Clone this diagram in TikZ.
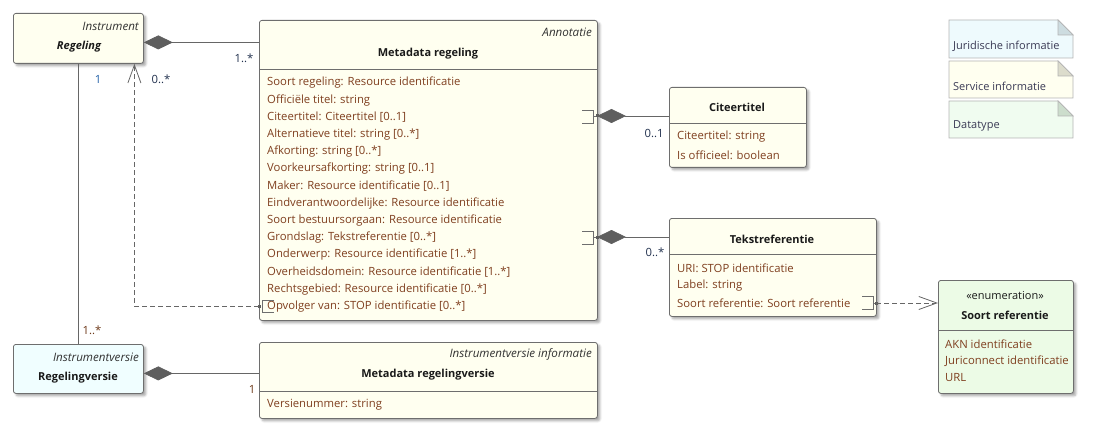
\documentclass[tikz,border=0pt]{standalone}
\usepackage{fontspec}
\setmainfont{Open Sans}
\usetikzlibrary{arrows.meta,shadows.blur,calc}
\definecolor{bordercol}{HTML}{6E6E6E}
\definecolor{yellowfill}{HTML}{FFFFF0}
\definecolor{cyanfill}{HTML}{F0FEFF}
\definecolor{greenfill}{HTML}{ECFBE6}
\definecolor{attrcol}{HTML}{7F3F1F}
\definecolor{titlecol}{HTML}{1A1A1A}
\definecolor{stereocol}{HTML}{333333}
\definecolor{navylab}{HTML}{23324F}
\definecolor{bluelab}{HTML}{2562A8}
\definecolor{brownlab}{HTML}{6E3A1A}
\definecolor{linecol}{HTML}{666666}
\definecolor{diamcol}{HTML}{5E5E5E}
\definecolor{legjur}{HTML}{EEFAFD}
\definecolor{legjurf}{HTML}{CDDCE0}
\definecolor{legser}{HTML}{FFFFF0}
\definecolor{legserf}{HTML}{DCDCCC}
\definecolor{legdat}{HTML}{F0FCF0}
\definecolor{legdatf}{HTML}{CCDDCC}
\definecolor{legborder}{HTML}{B4B4B4}
\definecolor{legtext}{HTML}{3A3A55}
\begin{document}
\begin{tikzpicture}[x=1pt,y=-1pt,
  font=\fontsize{11.3}{13}\selectfont,
  classbox/.style={draw=bordercol, line width=0.8pt, rounded corners=2.5pt, anchor=north west, inner sep=0pt,
    blur shadow={shadow xshift=2.5pt, shadow yshift=-2.5pt, shadow blur steps=6, shadow blur extra rounding=1pt, shadow opacity=35}},
  divider/.style={draw=bordercol, line width=0.8pt},
  attr/.style={anchor=west, inner sep=0pt, text=attrcol},
  ctitle/.style={anchor=center, inner sep=0pt, text=titlecol, font=\fontsize{11}{13}\selectfont\bfseries},
  stereo/.style={anchor=east, inner sep=0pt, text=stereocol, font=\fontsize{11.6}{13}\selectfont\itshape},
  mult/.style={anchor=center, inner sep=0pt, text=navylab},
  assoc/.style={draw=linecol, line width=0.8pt},
  comp/.style={assoc, {Diamond[length=29pt, width=14pt, fill=diamcol, color=diamcol]}-},
  dep/.style={draw=linecol, line width=0.8pt, dash pattern=on 5pt off 3pt, -{Straight Barb[length=18pt, width=13pt, line width=0.8pt]}},
  brk/.style={draw=bordercol, line width=0.8pt},
  port/.style={fill=diamcol, draw=none, minimum size=3pt, inner sep=0pt},
  legtxt/.style={anchor=west, inner sep=0pt, text=legtext, font=\fontsize{11}{13}\selectfont}
]
\useasboundingbox (0,0) rectangle (1093,433);

% ---------------- class boxes ----------------
\node[classbox, fill=yellowfill, minimum width=130pt, minimum height=50pt] (regeling) at (13,13) {};
\node[stereo] (regelingst) at (139,26) {Instrument};
\node[ctitle, font=\fontsize{11}{13}\selectfont\bfseries\itshape] (regelingt) at (79,47) {Regeling};

\node[classbox, fill=cyanfill, minimum width=130pt, minimum height=49pt] (regversie) at (13,344) {};
\node[stereo] (regversiest) at (139,357) {Instrumentversie};
\node[ctitle] (regversiet) at (78,378) {Regelingversie};

\node[classbox, fill=yellowfill, minimum width=338pt, minimum height=300pt] (meta) at (259,20) {};
\node[stereo] (metast) at (592,32) {Annotatie};
\node[ctitle] (metat) at (428,54) {Metadata regeling};
\draw[divider] (meta.west |- 0,69) -- (meta.east |- 0,69);
\foreach \t [count=\i from 0] in {
  {Soort regeling: Resource identificatie},
  {Officiële titel: string},
  {Citeertitel: Citeertitel [0..1]},
  {Alternatieve titel: string [0..*]},
  {Afkorting: string [0..*]},
  {Voorkeursafkorting: string [0..1]},
  {Maker: Resource identificatie [0..1]},
  {Eindverantwoordelijke: Resource identificatie},
  {Soort bestuursorgaan: Resource identificatie},
  {Grondslag: Tekstreferentie [0..*]},
  {Onderwerp: Resource identificatie [1..*]},
  {Overheidsdomein: Resource identificatie [1..*]},
  {Rechtsgebied: Resource identificatie [0..*]},
  {Opvolger van: STOP identificatie [0..*]}}
  \node[attr] (m\i) at (267,{83+17.2*\i}) {\t};

\node[classbox, fill=yellowfill, minimum width=338pt, minimum height=76pt] (metav) at (259,342) {};
\node[stereo] (metavst) at (592,354) {Instrumentversie informatie};
\node[ctitle] (metavt) at (428,375) {Metadata regelingversie};
\draw[divider] (metav.west |- 0,391) -- (metav.east |- 0,391);
\node[attr] (mv0) at (267,405) {Versienummer: string};

\node[classbox, fill=yellowfill, minimum width=137pt, minimum height=80pt] (cit) at (669,87) {};
\node[ctitle] (citt) at (737,107) {Citeertitel};
\draw[divider] (cit.west |- 0,123) -- (cit.east |- 0,123);
\node[attr] (c0) at (677,137) {Citeertitel: string};
\node[attr] (c1) at (677,155) {Is officieel: boolean};

\node[classbox, fill=yellowfill, minimum width=207pt, minimum height=98pt] (tekst) at (669,218) {};
\node[ctitle] (tekstt) at (772,239) {Tekstreferentie};
\draw[divider] (tekst.west |- 0,254) -- (tekst.east |- 0,254);
\node[attr] (t0) at (677,268) {URI: STOP identificatie};
\node[attr] (t1) at (677,286) {Label: string};
\node[attr] (t2) at (677,303) {Soort referentie: Soort referentie};

\node[classbox, fill=greenfill, minimum width=135pt, minimum height=113pt] (enum) at (938,280) {};
\node[ctitle, font=\fontsize{11}{13}\selectfont] (enumst) at (1005,296) {«enumeration»};
\node[ctitle] (enumt) at (1005,315) {Soort referentie};
\draw[divider] (enum.west |- 0,330) -- (enum.east |- 0,330);
\node[attr] (e0) at (945,344) {AKN identificatie};
\node[attr] (e1) at (945,361) {Juriconnect identificatie};
\node[attr] (e2) at (945,378) {URL};

% ---------------- legend ----------------
\foreach \yt/\yb/\fc/\ff/\txt/\nm in {20/58/legjur/legjurf/Juridische informatie/lj, 61/98/legser/legserf/Service informatie/ls, 101/138/legdat/legdatf/Datatype/ld}{
  \draw[draw=legborder, fill=\fc, line width=0.7pt] (949,\yt) -- (1058,\yt) -- (1073,\yt+15) -- (1073,\yb) -- (949,\yb) -- cycle;
  \draw[draw=legborder, fill=\ff, line width=0.7pt] (1058,\yt) -- (1073,\yt+15) -- (1058,\yt+15) -- cycle;
  \node[legtxt] (\nm) at (953,\yb-12) {\txt};
}

% ---------------- attribute brackets and ports ----------------
\coordinate (citport) at (597,116);
\coordinate (grondport) at (597,237);
\coordinate (soortport) at (876,303);
\coordinate (opvport) at (259,306);
\draw[brk] (582,110) -- (593,110) -- (593,123) -- (582,123);
\draw[brk] (593,116) -- (citport);
\draw[brk] (582,231) -- (593,231) -- (593,244) -- (582,244);
\draw[brk] (593,237) -- (grondport);
\draw[brk] (862,296) -- (873,296) -- (873,309) -- (862,309);
\draw[brk] (873,303) -- (soortport);
\draw[brk] (274,300) -- (262,300) -- (262,312) -- (274,312);
\node[port] (citp) at (citport) {};
\node[port] (grondp) at (grondport) {};
\node[port] (soortp) at (soortport) {};
\node[port] (opvp) at (opvport) {};

% ---------------- connectors ----------------
\draw[comp] ([yshift=-4pt]regeling.east) -- ([yshift=-4pt]regeling.east -| meta.west);
\draw[assoc] (regeling.south) -- (regversie.north);
\coordinate (regdep) at ([xshift=56pt]regeling.south);
\draw[dep] (opvport) -| (regdep);
\draw[comp] (citport) -- (citport -| cit.west);
\draw[comp] (grondport) -- (grondport -| tekst.west);
\draw[dep] (soortport) -- (soortport -| enum.west);
\draw[comp] ([yshift=-4.5pt]regversie.east) -- ([yshift=-4.5pt]regversie.east -| metav.west);

% ---------------- multiplicities ----------------
\node[mult] (l1) at (244,58) {1..*};
\node[mult, text=bluelab] (l2) at (98,79) {1};
\node[mult] (l3) at (161,79) {0..*};
\node[mult] (l4) at (654,133) {0..1};
\node[mult] (l5) at (655,252) {0..*};
\node[mult, text=brownlab] (l6) at (92,330) {1..*};
\node[mult, text=brownlab] (l7) at (252,389) {1};
\end{tikzpicture}
\end{document}
